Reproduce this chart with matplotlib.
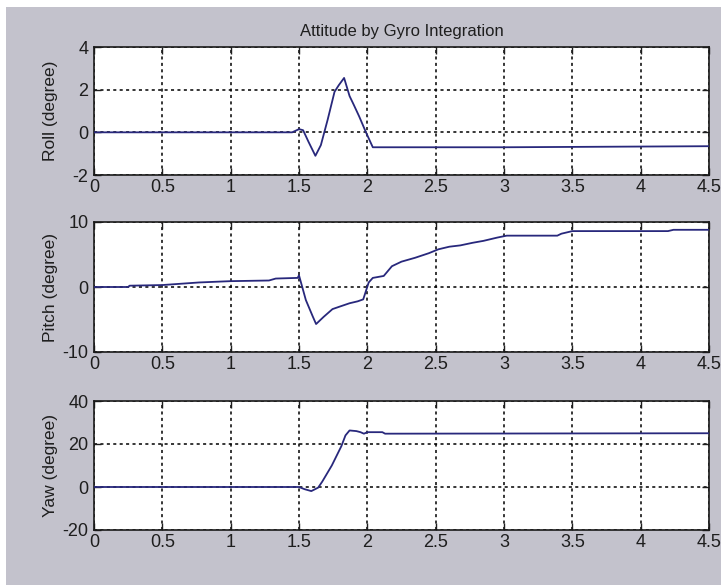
import matplotlib.pyplot as plt
from matplotlib.patches import Rectangle

# attitude angles (degree) from integrated gyro rates
t_roll = [0, 1.45, 1.50, 1.53, 1.57, 1.62, 1.66, 1.71, 1.76, 1.79, 1.83,
          1.87, 1.90, 1.94, 1.99, 2.04, 3.0, 4.5]
roll = [0, 0, 0.15, 0.1, -0.45, -1.1, -0.6, 0.6, 1.9, 2.2, 2.55,
        1.7, 1.3, 0.75, 0.0, -0.7, -0.7, -0.65]

t_pitch = [0, 0.25, 0.26, 0.5, 0.77, 1.0, 1.28, 1.33, 1.49, 1.50, 1.55,
           1.60, 1.625, 1.68, 1.745, 1.80, 1.87, 1.93, 1.97, 2.01, 2.04,
           2.12, 2.18, 2.25, 2.35, 2.45, 2.52, 2.60, 2.68, 2.77, 2.85,
           2.95, 3.02, 3.39, 3.42, 3.50, 4.20, 4.24, 4.5]
pitch = [0, 0, 0.2, 0.3, 0.7, 0.9, 1.0, 1.3, 1.4, 1.8, -2.0,
         -4.5, -5.7, -4.6, -3.4, -3.0, -2.5, -2.2, -1.9, 0.7, 1.4,
         1.7, 3.2, 3.9, 4.5, 5.2, 5.8, 6.2, 6.4, 6.8, 7.1,
         7.6, 7.9, 7.9, 8.2, 8.6, 8.6, 8.8, 8.8]

t_yaw = [0, 1.50, 1.54, 1.59, 1.64, 1.67, 1.74, 1.81, 1.84, 1.87, 1.92,
         1.95, 1.975, 2.0, 2.11, 2.13, 4.5]
yaw = [0, 0, -1.0, -1.9, -0.3, 2.5, 10, 19, 24, 26.3, 26,
       25.5, 24.8, 25.5, 25.5, 24.8, 25]

x_ticks = [0, 0.5, 1, 1.5, 2, 2.5, 3, 3.5, 4, 4.5]
x_labels = ["0", "0.5", "1", "1.5", "2", "2.5", "3", "3.5", "4", "4.5"]

panels = [
    (t_roll, roll, "Roll (degree)", [-2, 0, 2, 4]),
    (t_pitch, pitch, "Pitch (degree)", [-10, 0, 10]),
    (t_yaw, yaw, "Yaw (degree)", [-20, 0, 20, 40]),
]

plt.rcParams["font.family"] = ["Liberation Sans", "DejaVu Sans"]
plt.rcParams["axes.unicode_minus"] = False
W, H = 721, 585
fig = plt.figure(figsize=(W / 100, H / 100), dpi=100, facecolor="white")
# grey window background with a thin white margin on left and top
fig.patches.append(Rectangle((6 / W, 0), 1 - 6 / W, 1 - 7 / H,
                             transform=fig.transFigure, facecolor="#c3c2cc",
                             edgecolor="none", zorder=-5))

left = 94 / W
width = (709 - 94) / W
boxes = [(47, 175), (222, 352), (401, 530)]

line_col = "#28287c"
for (t, v, ylab, yt), (top, bot) in zip(panels, boxes):
    ax = fig.add_axes([left, 1 - bot / H, width, (bot - top) / H])
    ax.set_facecolor("white")
    ax.plot(t, v, color=line_col, lw=1.3, zorder=3)
    ax.set_xlim(0, 4.5)
    ax.set_ylim(yt[0], yt[-1])
    ax.set_xticks(x_ticks)
    ax.set_xticklabels(x_labels)
    ax.set_yticks(yt)
    ax.grid(True, color="black", linestyle=(0, (2, 2.2)), linewidth=1.1)
    ax.tick_params(direction="in", length=5, width=1, labelsize=13,
                   colors="#1e1e1e", top=True, right=True)
    ax.tick_params(axis="x", pad=3)
    ax.tick_params(axis="y", pad=4)
    for s in ax.spines.values():
        s.set_linewidth(1.2)
        s.set_color("#1a1a1a")
    ax.set_ylabel(ylab, fontsize=12.5, color="#1e1e1e")
    ax.yaxis.set_label_coords(-0.058, 0.5)
    if top == 47:
        ax.set_title("Attitude by Gyro Integration", fontsize=12,
                     color="#1e1e1e", pad=8)

fig.savefig("out.png", dpi=100, facecolor=fig.get_facecolor())
